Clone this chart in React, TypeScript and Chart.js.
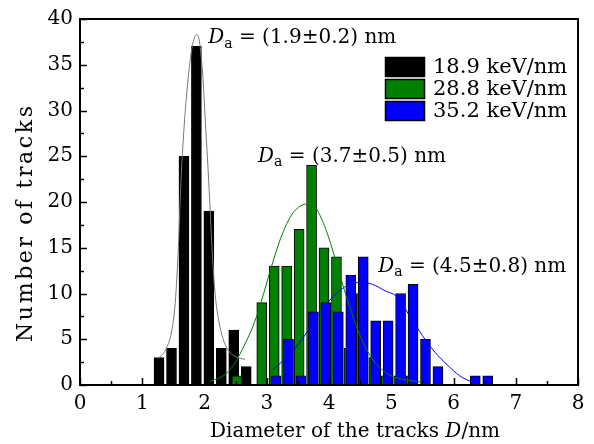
import React, { useEffect, useRef } from 'react';
import { Chart, registerables } from 'chart.js';

Chart.register(...registerables);

// ---------- data ----------
const SERIES_LABELS = ['18.9 keV/nm', '28.8 keV/nm', '35.2 keV/nm'];
const SERIES_COLORS = ['#000000', '#008000', '#0000ff'];
const FIT_COLORS = ['#777777', '#008000', '#0000ff'];

const BLACK_X = [1.27, 1.47, 1.67, 1.87, 2.07, 2.27, 2.47, 2.67];
const BLACK_Y = [3, 4, 25, 37, 19, 4, 6, 2];

const GREEN_X = [2.52, 2.72, 2.92, 3.12, 3.32, 3.52, 3.72, 3.92, 4.12, 4.32, 4.52, 4.72, 4.92, 5.12, 5.32];
const GREEN_Y = [1, 0, 9, 13, 13, 17, 24, 15, 14, 4, 10, 3, 1, 1, 1];

const BLUE_X = [3.15, 3.35, 3.55, 3.75, 3.95, 4.15, 4.35, 4.55, 4.75, 4.95, 5.15, 5.35, 5.55, 5.75, 5.95, 6.15, 6.35, 6.55];
const BLUE_Y = [1, 5, 1, 8, 9, 8, 12, 14, 7, 7, 10, 11, 5, 2, 0, 0, 1, 1];

const BLACK_FIT_X = [1.25, 1.32, 1.4, 1.47, 1.53, 1.58, 1.62, 1.67, 1.73, 1.79, 1.84, 1.88, 1.92, 1.97, 2.02, 2.07, 2.12, 2.17, 2.23, 2.3, 2.38, 2.5, 2.65];
const BLACK_FIT_Y = [2.9, 3.3, 4.2, 5.8, 9, 15, 22, 28, 33, 36.5, 38, 38.3, 37.5, 34, 28, 22, 15, 10, 7, 5, 3.8, 3.1, 2.8];

const GREEN_FIT_X = [2.09, 2.3, 2.45, 2.6, 2.8, 2.95, 3.1, 3.25, 3.4, 3.55, 3.67, 3.8, 3.95, 4.1, 4.25, 4.4, 4.55, 4.7, 4.85, 5.0, 5.2, 5.5];
const GREEN_FIT_Y = [0.4, 1.0, 2.0, 3.8, 6.8, 10, 13.5, 16.5, 18.6, 19.6, 19.8, 19.2, 17, 13.8, 10.3, 7.2, 4.6, 2.8, 1.7, 1.0, 0.6, 0.3];

const BLUE_FIT_X = [3.1, 3.3, 3.5, 3.7, 3.9, 4.1, 4.3, 4.5, 4.7, 4.9, 5.1, 5.3, 5.5, 5.7, 5.9, 6.1, 6.3];
const BLUE_FIT_Y = [1.7, 2.9, 4.4, 6.3, 8.3, 9.9, 10.9, 11.2, 11.0, 10.3, 9.6, 7.5, 5.4, 3.6, 2.2, 1.0, 0.3];

const X_MIN = 0;
const X_MAX = 8;
const Y_MIN = 0;
const Y_MAX = 40;

const ANNOTATION_TEXTS = ['(1.9±0.2)', '(3.7±0.5)', '(4.5±0.8)'];
const ANNOTATION_X = [2.06, 2.86, 4.79];
const ANNOTATION_Y = [37.35, 24.4, 12.4];

const X_TITLE = 'Diameter of the tracks ';
const Y_TITLE = 'Number of tracks';

const FONT = '"DejaVu Serif", "Liberation Serif", serif';
const FS = 20;

const pts = (xs: number[], ys: number[]) => xs.map((x, i) => ({ x, y: ys[i] }));

type Seg = { t: string; it?: boolean; sub?: boolean };

function drawRich(ctx: CanvasRenderingContext2D, segs: Seg[], x: number, y: number, size: number, align: 'left' | 'center') {
  const fontOf = (s: Seg) => `${s.it ? 'italic ' : ''}${s.sub ? Math.round(size * 0.7) : size}px ${FONT}`;
  let total = 0;
  for (const s of segs) {
    ctx.font = fontOf(s);
    total += ctx.measureText(s.t).width;
  }
  let cx = align === 'center' ? x - total / 2 : x;
  ctx.textAlign = 'left';
  ctx.textBaseline = 'alphabetic';
  for (const s of segs) {
    ctx.font = fontOf(s);
    ctx.fillText(s.t, cx, s.sub ? y + size * 0.22 : y);
    cx += ctx.measureText(s.t).width;
  }
}

const decorPlugin = {
  id: 'decor',
  afterDraw(chart: any) {
    const { ctx, chartArea: a, scales } = chart;
    const xs = scales.x;
    const ys = scales.y;
    ctx.save();
    ctx.strokeStyle = '#000';
    ctx.fillStyle = '#000';
    // frame
    ctx.lineWidth = 2;
    ctx.strokeRect(a.left, a.top, a.right - a.left, a.bottom - a.top);
    // ticks (inward)
    ctx.lineWidth = 1.5;
    ctx.beginPath();
    for (let v = X_MIN; v <= X_MAX; v += 0.5) {
      const px = Math.round(xs.getPixelForValue(v)) + 0.5;
      const len = Number.isInteger(v) ? 7 : 4;
      ctx.moveTo(px, a.bottom);
      ctx.lineTo(px, a.bottom - len);
    }
    for (let v = Y_MIN; v <= Y_MAX; v += 2.5) {
      const py = Math.round(ys.getPixelForValue(v)) + 0.5;
      const len = v % 5 === 0 ? 7 : 4;
      ctx.moveTo(a.left, py);
      ctx.lineTo(a.left + len, py);
    }
    ctx.stroke();

    // axis titles
    drawRich(ctx, [{ t: X_TITLE }, { t: 'D', it: true }, { t: '/nm' }], 355, 437, FS, 'center');
    ctx.save();
    ctx.translate(32, 224);
    ctx.rotate(-Math.PI / 2);
    ctx.font = `22px ${FONT}`;
    const w0 = ctx.measureText(Y_TITLE).width;
    const spacing = Math.max(0, (236 - w0) / (Y_TITLE.length - 1));
    (ctx as any).letterSpacing = `${spacing}px`;
    const w1 = ctx.measureText(Y_TITLE).width;
    ctx.textAlign = 'left';
    ctx.textBaseline = 'alphabetic';
    ctx.fillText(Y_TITLE, -w1 / 2 + spacing / 2, 0);
    (ctx as any).letterSpacing = '0px';
    ctx.restore();

    // annotations
    ANNOTATION_TEXTS.forEach((txt, i) => {
      const px = xs.getPixelForValue(ANNOTATION_X[i]);
      const py = ys.getPixelForValue(ANNOTATION_Y[i]);
      drawRich(ctx, [{ t: 'D', it: true }, { t: 'a', sub: true }, { t: ' = ' + txt + ' nm' }], px, py, FS, 'left');
    });

    // legend
    const lx = 385;
    const ly = 57;
    SERIES_LABELS.forEach((lab, i) => {
      const y = ly + i * 22;
      ctx.fillStyle = SERIES_COLORS[i];
      ctx.fillRect(lx, y, 40, 20);
      ctx.lineWidth = 1.5;
      ctx.strokeStyle = '#000';
      ctx.strokeRect(lx + 0.5, y + 0.5, 39, 19);
      ctx.fillStyle = '#000';
      ctx.font = `21px ${FONT}`;
      ctx.textAlign = 'left';
      ctx.textBaseline = 'middle';
      ctx.fillText(lab, lx + 48, y + 11);
    });
    ctx.restore();
  },
};

export default function App() {
  const ref = useRef<HTMLCanvasElement>(null);
  useEffect(() => {
    if (!ref.current) return;
    const barCommon = {
      type: 'bar' as const,
      grouped: false,
      barThickness: 10,
      borderWidth: 1,
      borderColor: '#000',
      borderSkipped: 'start' as const,
    };
    const lineCommon = {
      type: 'line' as const,
      borderWidth: 1,
      pointRadius: 0,
      fill: false,
      cubicInterpolationMode: 'monotone' as const,
      order: 0,
    };
    const chart = new Chart(ref.current, {
      type: 'bar',
      data: {
        datasets: [
          { ...barCommon, label: SERIES_LABELS[0], data: pts(BLACK_X, BLACK_Y), backgroundColor: SERIES_COLORS[0], order: 3 },
          { ...barCommon, label: SERIES_LABELS[1], data: pts(GREEN_X, GREEN_Y), backgroundColor: SERIES_COLORS[1], order: 2 },
          { ...barCommon, label: SERIES_LABELS[2], data: pts(BLUE_X, BLUE_Y), backgroundColor: SERIES_COLORS[2], order: 1 },
          { ...lineCommon, label: 'fit1', data: pts(BLACK_FIT_X, BLACK_FIT_Y), borderColor: FIT_COLORS[0] },
          { ...lineCommon, label: 'fit2', data: pts(GREEN_FIT_X, GREEN_FIT_Y), borderColor: FIT_COLORS[1] },
          { ...lineCommon, label: 'fit3', data: pts(BLUE_FIT_X, BLUE_FIT_Y), borderColor: FIT_COLORS[2] },
        ] as any,
      },
      options: {
        responsive: false,
        animation: false,
        layout: { padding: { top: 13, right: 16, left: 0, bottom: 0 } },
        plugins: { legend: { display: false }, tooltip: { enabled: false } },
        scales: {
          x: {
            type: 'linear',
            min: X_MIN,
            max: X_MAX,
            offset: false,
            grid: { display: false, drawTicks: false, offset: false },
            border: { display: false },
            ticks: { stepSize: 1, color: '#000', font: { family: FONT, size: FS }, padding: 7, maxRotation: 0 },
            afterFit: (s: any) => { s.height = 59; },
          },
          y: {
            type: 'linear',
            min: Y_MIN,
            max: Y_MAX,
            grid: { display: false, drawTicks: false },
            border: { display: false },
            ticks: { stepSize: 5, color: '#000', font: { family: FONT, size: FS }, padding: 7 },
            afterFit: (s: any) => { s.width = 80; },
          },
        },
      } as any,
      plugins: [decorPlugin],
    });
    return () => chart.destroy();
  }, []);
  return (
    <div style={{ position: 'absolute', left: 0, top: 0, width: 594, height: 444, background: '#fff' }}>
      <canvas ref={ref} width={594} height={444} style={{ width: 594, height: 444 }} />
    </div>
  );
}
